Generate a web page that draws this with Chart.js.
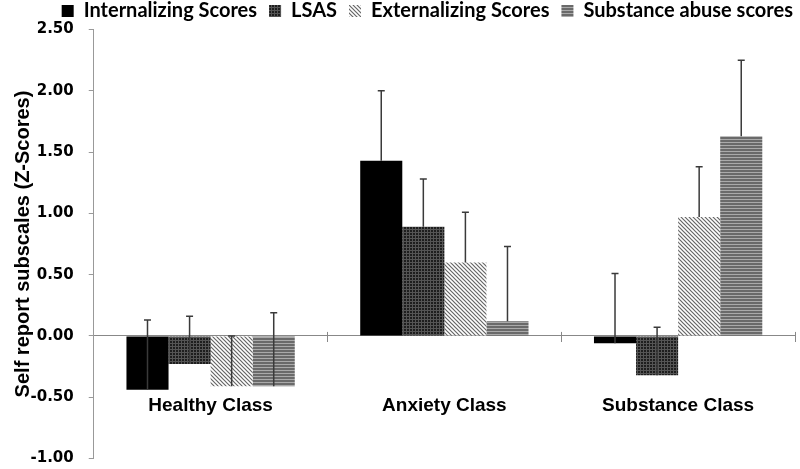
<!DOCTYPE html>
<html lang="en">
<head>
    <meta charset="UTF-8">
    <title>Self report subscales</title>
    <style type="text/css">
        body { margin: 0; background: #fff; }
        .chartBox { width: 800px; height: 469px; }
    </style>
</head>
<body>
    <div class="chartBox">
        <canvas id="myChart"></canvas>
    </div>

    <script src="https://cdn.jsdelivr.net/npm/chart.js"></script>

    <script>
    // data block
    const classes = ['Healthy Class', 'Anxiety Class', 'Substance Class'];
    const seriesNames = ['Internalizing Scores', 'LSAS', 'Externalizing Scores', 'Substance abuse scores'];

    const internalizing = [-0.44, 1.43, -0.06];
    const lsas = [-0.23, 0.89, -0.32];
    const externalizing = [-0.41, 0.60, 0.97];
    const substanceAbuse = [-0.41, 0.12, 1.63];

    // standard deviations (upper error bar only)
    const internalizingSD = [0.57, 0.57, 0.57];
    const lsasSD = [0.39, 0.39, 0.39];
    const externalizingSD = [0.41, 0.41, 0.41];
    const substanceAbuseSD = [0.60, 0.61, 0.62];

    const yTicks = [-1.0, -0.5, 0.0, 0.5, 1.0, 1.5, 2.0, 2.5];

    // pattern fills
    function makePattern(size, draw) {
        const c = document.createElement('canvas');
        c.width = size; c.height = size;
        const ctx = c.getContext('2d');
        draw(ctx, size);
        return ctx.createPattern(c, 'repeat');
    }

    const lsasFill = makePattern(3, (ctx, s) => {
        ctx.fillStyle = '#1e1e1e';
        ctx.fillRect(0, 0, s, s);
        ctx.fillStyle = '#555';
        ctx.fillRect(1, 0, 1, s);
        ctx.fillRect(0, 1, s, 1);
    });

    const extFill = makePattern(4, (ctx, s) => {
        ctx.fillStyle = '#fff';
        ctx.fillRect(0, 0, s, s);
        ctx.strokeStyle = '#666';
        ctx.lineWidth = 1.2;
        ctx.beginPath();
        ctx.moveTo(-1, -1); ctx.lineTo(s + 1, s + 1);
        ctx.moveTo(-1, s - 1); ctx.lineTo(1, s + 1);
        ctx.moveTo(s - 1, -1); ctx.lineTo(s + 1, 1);
        ctx.stroke();
    });

    const subFill = makePattern(3, (ctx, s) => {
        ctx.fillStyle = '#6a6a6a';
        ctx.fillRect(0, 0, s, s);
        ctx.fillStyle = '#aaa';
        ctx.fillRect(0, 1, s, 1);
    });

    const data = {
        labels: classes,
        datasets: [{
            label: seriesNames[0],
            data: internalizing,
            sd: internalizingSD,
            backgroundColor: '#000'
        },{
            label: seriesNames[1],
            data: lsas,
            sd: lsasSD,
            backgroundColor: lsasFill
        },{
            label: seriesNames[2],
            data: externalizing,
            sd: externalizingSD,
            backgroundColor: extFill
        },{
            label: seriesNames[3],
            data: substanceAbuse,
            sd: substanceAbuseSD,
            backgroundColor: subFill
        }]
    };

    // error bars: line from bar end up to mean + SD
    // also the short tick marks that stick up through the zero axis
    const errorBars = {
        id: 'errorBars',
        afterDatasetsDraw(chart) {
            const ctx = chart.ctx;
            const x = chart.scales.x;
            const y = chart.scales.y;
            ctx.save();
            ctx.strokeStyle = '#3a3a3a';
            ctx.lineWidth = 1.5;
            chart.data.datasets.forEach((ds, i) => {
                const meta = chart.getDatasetMeta(i);
                meta.data.forEach((bar, j) => {
                    const top = y.getPixelForValue(ds.data[j] + ds.sd[j]);
                    ctx.beginPath();
                    ctx.moveTo(bar.x, bar.y);
                    ctx.lineTo(bar.x, top);
                    ctx.moveTo(bar.x - 3.5, top);
                    ctx.lineTo(bar.x + 3.5, top);
                    ctx.stroke();
                });
            });

            const zero = y.getPixelForValue(0);
            const half = (x.getPixelForValue(1) - x.getPixelForValue(0)) / 2;
            ctx.strokeStyle = '#888';
            ctx.lineWidth = 1;
            classes.forEach((c, i) => {
                const bx = Math.round(x.getPixelForValue(i) + half) + 0.5;
                ctx.beginPath();
                ctx.moveTo(bx, zero - 4);
                ctx.lineTo(bx, zero);
                ctx.stroke();
            });
            ctx.restore();
        }
    };

    // legend sits a little further right than chart.js puts it
    const legendNudge = {
        id: 'legendNudge',
        afterLayout(chart) {
            chart.legend.left += 10;
            chart.legend.right += 10;
        }
    };

    // config block
    const config = {
        type: 'bar',
        data,
        plugins: [errorBars, legendNudge],
        options: {
            responsive: true,
            maintainAspectRatio: false,
            animation: false,
            layout: {
                padding: { top: -11, right: 5, bottom: 10.5, left: 10.5 }
            },
            datasets: {
                bar: {
                    categoryPercentage: 0.72,
                    barPercentage: 1.0
                }
            },
            plugins: {
                tooltip: { enabled: false },
                legend: {
                    position: 'top',
                    align: 'end',
                    maxHeight: 40.5,
                    labels: {
                        boxWidth: 12,
                        boxHeight: 12,
                        padding: 12,
                        color: '#000',
                        font: { family: 'Lato', weight: 'bold', size: 20 }
                    }
                }
            },
            scales: {
                x: {
                    position: { y: 0 },
                    grid: {
                        drawOnChartArea: false,
                        color: '#888',
                        tickLength: 58.5,
                        tickBorderDash: [6, 200]
                    },
                    border: { color: '#888', width: 1 },
                    ticks: {
                        padding: 0,
                        color: '#000',
                        font: { family: 'Liberation Sans', weight: 'bold', size: 19 }
                    }
                },
                y: {
                    min: -1,
                    max: 2.5,
                    afterBuildTicks: axis => {
                        axis.ticks = yTicks.map(v => ({ value: v }));
                    },
                    grid: {
                        drawOnChartArea: false,
                        color: '#999',
                        tickLength: 20,
                        // long tick length only makes room for the labels; show the last 5px
                        tickBorderDash: [0, 15, 5, 200]
                    },
                    border: { color: '#999', width: 1 },
                    ticks: {
                        padding: 0,
                        color: '#000',
                        font: { family: 'DejaVu Sans', weight: 'bold', size: 15 },
                        callback: v => Number(v).toFixed(2)
                    },
                    title: {
                        display: true,
                        text: 'Self report subscales (Z-Scores)',
                        color: '#000',
                        padding: { top: 3, bottom: -3 },
                        font: { family: 'Liberation Sans', weight: 'bold', size: 20, lineHeight: 1 }
                    }
                }
            }
        }
    };

    // render init block
    const myChart = new Chart(
        document.getElementById('myChart'),
        config
    );
    </script>
</body>
</html>
